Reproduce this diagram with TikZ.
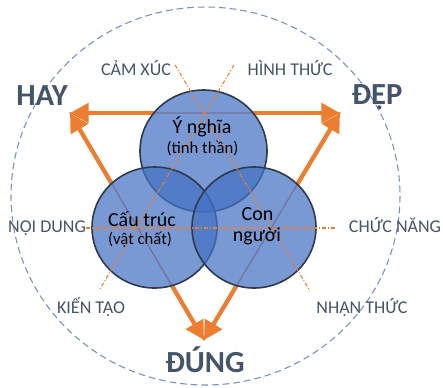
\documentclass[tikz,border=0pt]{standalone}
\usepackage{fontspec}
\setmainfont{Carlito}
\usetikzlibrary{arrows.meta}
\definecolor{slate}{HTML}{44546A}
\definecolor{accent}{HTML}{ED7D31}
\definecolor{bluefill}{HTML}{4472C4}
\definecolor{rim}{HTML}{2F3A4B}
\definecolor{ring}{HTML}{7390C4}
\tikzset{
  bigword/.style={text=slate, font=\fontsize{23}{26}\selectfont\bfseries, inner sep=0pt, anchor=base},
  aspect/.style={text=slate, font=\fontsize{13.5}{16}\selectfont, inner sep=0pt, anchor=base},
  maintext/.style={text=black, font=\fontsize{15}{18}\selectfont, inner sep=0pt, anchor=base},
  subtext/.style={text=black, font=\fontsize{12.5}{15}\selectfont, inner sep=0pt, anchor=base},
  edge/.style={draw=accent, line width=3.2pt, >={Triangle[length=14pt,width=14.5pt]}, <->},
  axis/.style={draw=accent, line width=0.8pt, dash pattern=on 3pt off 1.5pt on 0.8pt off 1.5pt}
}
\begin{document}
\begin{tikzpicture}[x=0.75pt,y=-0.75pt]
\useasboundingbox (0,0) rectangle (443,387);

\coordinate (hayTip) at (70,113);
\coordinate (depTip) at (340,113);
\coordinate (dungTip) at (204,340);
\coordinate (top) at (203.5,151);
\coordinate (left) at (154.5,227.5);
\coordinate (right) at (254,227.5);

\draw[ring, line width=0.8pt, dash pattern=on 5pt off 3pt] (205.5,196) ellipse [x radius=194.5, y radius=189];

\draw[edge] (hayTip) -- (depTip);
\draw[edge] (hayTip) -- (dungTip);
\draw[edge] (depTip) -- (dungTip);

\fill[white] (top) ellipse [x radius=63.5, y radius=61]
  (left) ellipse [x radius=62.5, y radius=60.5]
  (right) ellipse [x radius=62, y radius=60.5];
\draw[accent, line width=1pt] (hayTip) -- (depTip) -- (dungTip) -- cycle;

\draw[rim, line width=1.2pt, fill=bluefill, fill opacity=0.72] (top) ellipse [x radius=63.5, y radius=61];
\draw[rim, line width=1.2pt, fill=bluefill, fill opacity=0.72] (left) ellipse [x radius=62.5, y radius=60.5];
\draw[rim, line width=1.2pt, fill=bluefill, fill opacity=0.72] (right) ellipse [x radius=62, y radius=60.5];

\coordinate (camEnd) at (175,65);
\coordinate (nhanEnd) at (310,291);
\coordinate (hinhEnd) at (234,65);
\coordinate (kienEnd) at (100,289);
\coordinate (noiEnd) at (86,228);
\coordinate (chucEnd) at (336,228);
\draw[axis] (camEnd) -- (nhanEnd);
\draw[axis] (hinhEnd) -- (kienEnd);
\draw[axis] (noiEnd) -- (chucEnd);

\node[bigword] (hay) at (42,105) {HAY};
\node[bigword] (dep) at (377,104) {ĐẸP};
\node[bigword] (dung) at (205,372) {ĐÚNG};

\node[aspect] (camxuc) at (136,75) {CẢM XÚC};
\node[aspect] (hinhthuc) at (290,75) {HÌNH THỨC};
\node[aspect] (noidung) at (47,232) {NỘI DUNG};
\node[aspect] (chucnang) at (395,232) {CHỨC NĂNG};
\node[aspect] (kientao) at (91,313) {KIẾN TẠO};
\node[aspect] (nhanthuc) at (362,313) {NHẬN THỨC};

\node[maintext] (ynghia) at (202,133) {Ý nghĩa};
\node[subtext] (tinhthan) at (202.5,153) {(tinh thần)};
\node[maintext] (cautruc) at (142,226) {Cấu trúc};
\node[subtext] (vatchat) at (140,244) {(vật chất)};
\node[maintext] (con) at (257.5,220) {Con};
\node[maintext] (nguoi) at (257,241) {người};
\end{tikzpicture}
\end{document}
